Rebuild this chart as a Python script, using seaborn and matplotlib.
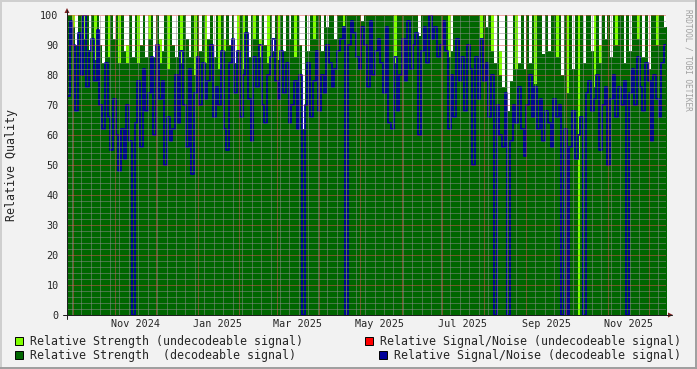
import numpy as np
import pandas as pd
import matplotlib
matplotlib.use('Agg')
import matplotlib.pyplot as plt
import matplotlib.dates as mdates
from matplotlib.ticker import MultipleLocator
from matplotlib.patches import Rectangle, Polygon
from matplotlib.lines import Line2D
import seaborn as sns

sns.set_style('white')
plt.rcParams['font.family'] = ['DejaVu Sans Mono']

# ========================================
# data (2-day samples)
# ========================================
START = '2024-09-26 08:00'

# relative strength, decodeable signal (dark green area)
strength_dec = [
    100, 100, 96, 90, 100, 100, 92, 100, 88, 100,
    85, 100, 90, 84, 100, 86, 100, 92, 100, 84,
    100, 88, 84, 100, 86, 100, 84, 90, 100, 86,
    92, 100, 86, 100, 84, 88, 100, 82, 100, 90,
    86, 100, 84, 100, 92, 86, 100, 80, 100, 88,
    100, 84, 92, 100, 86, 100, 82, 100, 88, 100,
    90, 100, 84, 88, 100, 82, 100, 86, 100, 92,
    100, 86, 100, 90, 84, 100, 88, 100, 85, 100,
    88, 100, 92, 100, 86, 100, 90, 62, 100, 88,
    100, 92, 100, 100, 88, 100, 96, 100, 100, 92,
    100, 100, 96, 100, 100, 100, 100, 100, 100, 98,
    100, 100, 100, 100, 100, 100, 100, 100, 100, 100,
    100, 84, 100, 100, 100, 100, 100, 100, 100, 100,
    93, 100, 100, 100, 100, 100, 100, 100, 100, 100,
    100, 86, 88, 100, 100, 100, 100, 100, 100, 100,
    100, 100, 100, 92, 100, 96, 100, 88, 84, 100,
    80, 76, 100, 68, 78, 100, 82, 84, 100, 82,
    100, 84, 100, 77, 100, 100, 87, 100, 88, 100,
    100, 86, 100, 80, 100, 74, 100, 82, 100, 0,
    100, 84, 100, 100, 88, 76, 100, 84, 100, 92,
    100, 86, 100, 90, 100, 100, 84, 100, 88, 100,
    100, 92, 100, 86, 100, 82, 100, 100, 90, 100,
    100, 96,
]

# relative strength, undecodeable signal (light green, stacked on top)
strength_undec = [
    0, 0, 4, 0, 0, 0, 8, 0, 0, 0,
    15, 0, 0, 0, 0, 14, 0, 0, 0, 16,
    0, 0, 6, 0, 0, 0, 16, 0, 0, 0,
    8, 0, 0, 0, 8, 0, 0, 18, 0, 0,
    0, 0, 16, 0, 0, 0, 0, 20, 0, 0,
    0, 16, 0, 0, 0, 0, 18, 0, 4, 0,
    0, 0, 0, 12, 0, 18, 0, 0, 0, 8,
    0, 6, 0, 0, 16, 0, 0, 0, 15, 0,
    0, 0, 0, 0, 14, 0, 0, 0, 0, 0,
    0, 8, 0, 0, 0, 0, 0, 0, 0, 0,
    0, 0, 4, 0, 0, 0, 0, 0, 0, 0,
    0, 0, 0, 0, 0, 0, 0, 0, 0, 0,
    0, 16, 0, 0, 0, 0, 0, 0, 0, 0,
    0, 0, 0, 0, 0, 0, 0, 0, 0, 0,
    0, 14, 0, 0, 0, 0, 0, 0, 0, 0,
    0, 0, 0, 8, 0, 0, 0, 12, 0, 0,
    8, 0, 0, 0, 0, 0, 18, 0, 0, 0,
    0, 0, 0, 23, 0, 0, 0, 0, 0, 0,
    0, 14, 0, 0, 0, 26, 0, 0, 0, 100,
    0, 0, 0, 0, 0, 24, 0, 6, 0, 0,
    0, 0, 0, 10, 0, 0, 0, 0, 0, 0,
    0, 8, 0, 0, 0, 0, 0, 0, 10, 0,
    0, 0,
]

# relative signal/noise, decodeable signal (blue line)
snr_dec = [
    73, 98, 90, 68, 94, 80, 100, 76, 88, 92,
    78, 95, 70, 62, 84, 66, 55, 72, 60, 48,
    62, 52, 70, 58, 0, 64, 78, 56, 82, 68,
    74, 86, 60, 90, 72, 78, 50, 66, 58, 62,
    80, 64, 88, 70, 56, 82, 47, 74, 86, 70,
    84, 72, 78, 90, 66, 76, 70, 88, 62, 55,
    84, 92, 74, 88, 66, 80, 94, 72, 58, 86,
    76, 90, 70, 64, 80, 86, 92, 78, 72, 88,
    74, 84, 64, 70, 78, 62, 80, 0, 70, 84,
    66, 78, 88, 68, 80, 74, 90, 84, 76, 82,
    88, 92, 96, 0, 90, 98, 94, 86, 82, 96,
    90, 76, 98, 80, 88, 92, 84, 74, 96, 64,
    62, 86, 68, 80, 92, 78, 98, 82, 90, 94,
    60, 88, 96, 84, 100, 92, 96, 86, 90, 98,
    88, 62, 80, 66, 92, 78, 86, 68, 90, 82,
    50, 86, 72, 92, 78, 84, 66, 80, 0, 70,
    60, 56, 74, 0, 58, 70, 64, 76, 62, 53,
    70, 80, 66, 76, 62, 72, 58, 68, 64, 56,
    72, 66, 70, 0, 62, 0, 56, 68, 52, 60,
    66, 0, 74, 78, 68, 72, 80, 55, 70, 76,
    50, 72, 80, 66, 76, 70, 78, 0, 74, 82,
    70, 86, 76, 68, 84, 78, 58, 80, 72, 66,
    84, 90,
]

x_labels = ['Nov 2024', 'Jan 2025', 'Mar 2025', 'May 2025', 'Jul 2025', 'Sep 2025', 'Nov 2025']
legend_labels = [
    'Relative Strength (undecodeable signal)',
    'Relative Strength  (decodeable signal)',
    'Relative Signal/Noise (undecodeable signal)',
    'Relative Signal/Noise (decodeable signal)',
]

# ========================================
# style
# ========================================
W, H = 697, 369
C_BACK = '#F2F2F2'
C_LGREEN = '#80FF00'
C_DGREEN = '#006600'
C_RED = '#FF0000'
C_BLUE = '#000099'
C_GRID = (0.56, 0.56, 0.56, 0.28)
C_MGRID = (0.87, 0.31, 0.31, 0.35)
C_TICK = (0.87, 0.31, 0.31, 0.8)
C_ARROW = '#801F1F'
C_AXIS = '#1F1F1F'
FS_AX = 7.3
FS_LEG = 8.4


def fx(px):
    return px / W


def fy(py):
    return 1 - py / H


df = pd.DataFrame({
    'date': pd.date_range(START, periods=len(snr_dec), freq='2D'),
    'dec': strength_dec,
    'undec': strength_undec,
    'snr': snr_dec,
})
# repeat last row so the final step gets its width
last = df.iloc[[-1]].copy()
last['date'] = last['date'] + pd.Timedelta(days=2)
df = pd.concat([df, last], ignore_index=True)
xd = mdates.date2num(df['date'])

fig = plt.figure(figsize=(W / 100, H / 100), dpi=100, facecolor=C_BACK)
ax = fig.add_axes([fx(67), fy(315), 599 / W, 300 / H])
ax.set_facecolor('white')

# stacked strength areas
ax.fill_between(xd, 0, df['dec'] + df['undec'], step='post', color=C_LGREEN, lw=0, zorder=1)
ax.fill_between(xd, 0, df['dec'], step='post', color=C_DGREEN, lw=0, zorder=1.1)
sns.lineplot(x=xd, y=df['snr'].values, drawstyle='steps-post', color=C_BLUE,
             lw=1.3, ax=ax, zorder=2)

x0 = mdates.date2num(pd.Timestamp(START))
x1 = mdates.date2num(pd.Timestamp('2025-12-13 19:00'))
ax.set_xlim(x0, x1)
ax.set_ylim(0, 100)

# grid (drawn over the data like rrdtool does)
ax.xaxis.set_major_locator(mdates.MonthLocator())
ax.xaxis.set_minor_locator(mdates.WeekdayLocator(byweekday=mdates.MO))
ax.yaxis.set_major_locator(MultipleLocator(10))
ax.yaxis.set_minor_locator(MultipleLocator(2))
ax.set_axisbelow(False)
ax.grid(which='minor', color=C_GRID, ls=(0, (1, 1)), lw=0.72, zorder=3)
ax.grid(which='major', color=C_MGRID, ls=(0, (1, 1)), lw=0.72, zorder=3)

ax.tick_params(axis='x', which='major', length=3, width=0.72, color=C_TICK,
               labelbottom=False, direction='out')
ax.tick_params(axis='x', which='minor', length=0)
ax.tick_params(axis='y', which='major', length=3.5, width=0.72, color=C_AXIS,
               labelsize=FS_AX, pad=2.5)
ax.tick_params(axis='y', which='minor', length=0)
ax.set_xlabel('')
ax.set_ylabel('')
for s in ax.spines.values():
    s.set_visible(False)

# month labels centred in their month
for lab in x_labels:
    d = pd.Timestamp('16 ' + lab)
    ax.text(mdates.date2num(d), -0.03, lab, transform=ax.get_xaxis_transform(),
            ha='center', va='center', fontsize=FS_AX)

# axes lines + arrows
fig.add_artist(Line2D([fx(63), fx(672)], [fy(315), fy(315)], color=C_AXIS, lw=0.72))
fig.add_artist(Line2D([fx(67), fx(67)], [fy(319), fy(10)], color=C_AXIS, lw=0.72))
fig.add_artist(Polygon([(fx(64.5), fy(13)), (fx(69.5), fy(13)), (fx(67), fy(8))],
                       closed=True, color=C_ARROW, lw=0))
fig.add_artist(Polygon([(fx(668), fy(312.5)), (fx(668), fy(317.5)), (fx(673), fy(315))],
                       closed=True, color=C_ARROW, lw=0))

# titles
fig.text(fx(12), fy(165), 'Relative Quality', rotation=90, ha='center', va='center',
         fontsize=FS_LEG)
fig.text(fx(688), fy(60), 'RRDTOOL / TOBI OETIKER', rotation=270, ha='center', va='center',
         fontsize=5.6, color='#A0A0A0')

# legend
leg = [
    (15, 341, C_LGREEN, 30, 'left'),
    (15, 355, C_DGREEN, 30, 'left'),
    (365, 341, C_RED, 681, 'right'),
    (379, 355, C_BLUE, 681, 'right'),
]
for (sx, sy, col, tx, ha), lab in zip(leg, legend_labels):
    fig.add_artist(Rectangle((fx(sx), fy(sy + 4)), 8 / W, 8 / H, facecolor=col,
                             edgecolor='black', lw=0.7))
    fig.text(fx(tx), fy(sy), lab, ha=ha, va='center', fontsize=FS_LEG)

# frame shading
fig.add_artist(Line2D([0, 1], [fy(0.5), fy(0.5)], color='#CFCFCF', lw=1.4))
fig.add_artist(Line2D([fx(0.5), fx(0.5)], [0, 1], color='#CFCFCF', lw=1.4))
fig.add_artist(Line2D([0, 1], [fy(368), fy(368)], color='#9E9E9E', lw=1.4))
fig.add_artist(Line2D([fx(696), fx(696)], [0, 1], color='#9E9E9E', lw=1.4))

fig.savefig('out.png', dpi=100, facecolor=C_BACK)
